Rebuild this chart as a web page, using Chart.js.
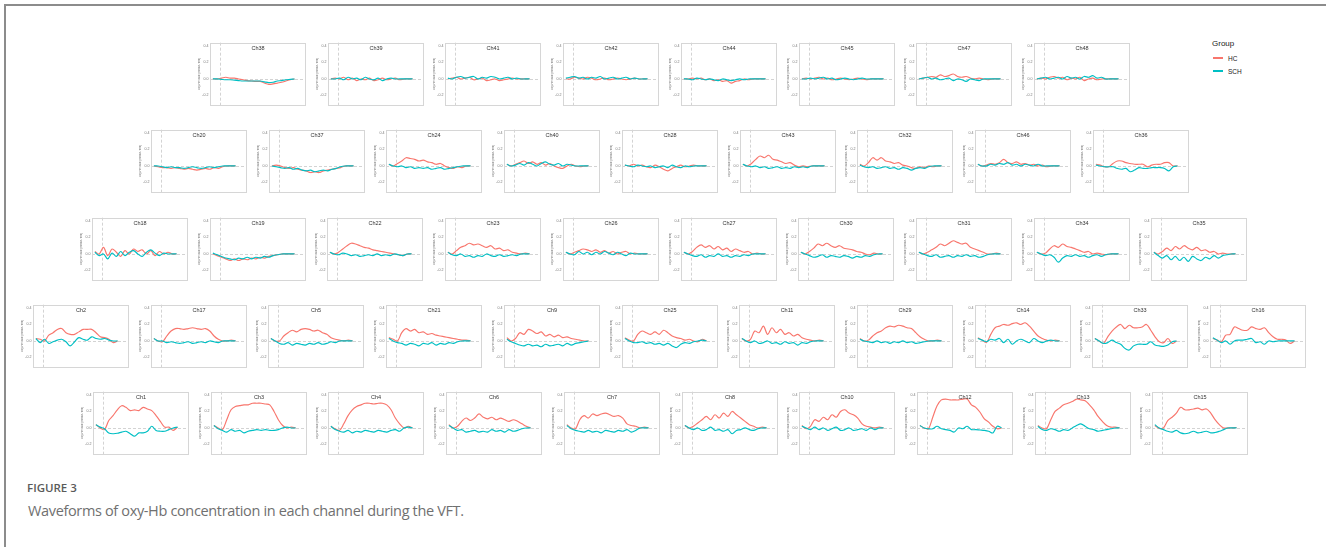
<!DOCTYPE html>
<html>
<head>
<meta charset="utf-8">
<script src="https://cdn.jsdelivr.net/npm/chart.js@4.4.1/dist/chart.umd.min.js"></script>
<style>
  html, body { margin: 0; padding: 0; background: #fff; }
  body { width: 1326px; height: 547px; position: relative; overflow: hidden; font-family: "Liberation Sans", Arial, sans-serif; }
  .frame { position: absolute; left: 4px; top: 4px; right: -4px; bottom: -4px; border-left: 2px solid #8c8c8c; border-top: 2px solid #8c8c8c; }
  canvas.panel { position: absolute; }
  .legend { position: absolute; left: 1212px; top: 39px; color: #222; }
  .legend .ttl { font-size: 8px; line-height: 10px; }
  .legend .item { position: absolute; left: 1px; font-size: 6.5px; line-height: 8px; white-space: nowrap; }
  .legend .sw { display: inline-block; width: 10px; height: 2px; vertical-align: middle; margin-right: 5px; position: relative; top: -1px; }
  .cap1 { position: absolute; left: 27px; top: 480px; font-family: "Open Sans", sans-serif; font-weight: 600; font-size: 11.5px; color: #5a5a5a; }
  .cap2 { position: absolute; left: 28px; top: 501px; font-family: "Open Sans", sans-serif; font-size: 14.5px; color: #707070; letter-spacing: -0.35px; }
</style>
</head>
<body>
<div class="frame"></div>
<div class="legend">
  <div class="ttl">Group</div>
  <div class="item" style="top:16px"><span class="sw" style="background:#F8766D"></span>HC</div>
  <div class="item" style="top:29px"><span class="sw" style="background:#00BFC4"></span>SCH</div>
</div>
<div class="cap1">FIGURE 3</div>
<div class="cap2">Waveforms of oxy-Hb concentration in each channel during the VFT.</div>
<script>
// ── time axis (s), task onset at 0 ──
const timeSec = [-10, -4, 2, 8, 14, 20, 26, 32, 38, 44, 50, 56, 62, 68, 74, 80, 86, 92, 98, 104];
const yTicks = [-0.2, 0, 0.2, 0.4];

// ── row 1 ──
const row1Channels = ['Ch38', 'Ch39', 'Ch41', 'Ch42', 'Ch44', 'Ch45', 'Ch47', 'Ch48'];
const row1HC = [
  [0, 0, 0.01, 0.02, 0.01, 0.01, 0, -0.01, -0.02, -0.025, -0.03, -0.03, -0.05, -0.065, -0.06, -0.05, -0.04, -0.025, -0.01, 0],
  [0, 0.01, 0, 0.02, -0.01, 0.01, -0.02, 0, -0.01, 0.01, -0.02, -0.01, 0.01, -0.01, 0, 0.01, -0.01, 0, 0, 0],
  [0, 0.01, 0.02, 0, 0.01, 0.02, -0.01, 0, 0.01, -0.02, -0.01, 0, -0.02, -0.01, 0, 0.01, 0, 0, 0, 0],
  [0, 0, 0.02, 0.01, 0, 0.02, 0.01, -0.01, 0, 0.01, -0.01, 0, 0.01, 0, -0.01, 0, 0.01, 0, 0, 0],
  [0, 0, 0.01, 0, 0.01, -0.01, 0, -0.02, -0.01, -0.03, -0.02, -0.05, -0.03, -0.02, 0, -0.01, 0, 0, 0, 0],
  [0, 0.01, 0, 0.01, 0.02, 0, 0.01, -0.01, 0, 0.01, 0, -0.01, 0, 0.01, 0, -0.01, 0, 0, 0, 0],
  [0, 0.01, 0.02, 0.03, 0.02, 0.05, 0.03, 0.04, 0.06, 0.03, 0.02, 0.03, 0.01, 0, 0.01, 0, -0.01, 0, 0, 0],
  [0, 0.01, 0, 0.02, 0.03, 0.01, 0.02, -0.01, 0.01, 0, 0.02, -0.02, 0, 0.01, -0.01, 0, 0, 0, 0, 0]
];
const row1SCH = [
  [0, 0, -0.005, -0.01, -0.01, -0.015, -0.02, -0.025, -0.025, -0.025, -0.025, -0.025, -0.035, -0.045, -0.04, -0.025, -0.02, -0.01, -0.005, 0],
  [0, 0, 0.01, -0.01, 0.02, 0, 0.01, -0.01, 0.02, 0, -0.01, 0.01, -0.02, 0, 0.01, 0, 0, 0, 0, 0],
  [0.01, 0, 0.02, 0.03, 0.01, 0.02, 0.03, 0, 0.02, 0.01, 0.03, 0.02, 0, 0.01, 0.02, 0, 0.01, 0, 0, 0],
  [0.01, 0.02, 0.03, 0.01, 0.02, 0, 0.02, 0.01, 0.03, 0, 0.01, 0.02, 0, 0.01, 0.02, 0, 0.01, 0, 0, 0],
  [0, 0, -0.01, 0.01, 0, -0.01, 0, -0.01, -0.02, 0, -0.01, -0.02, -0.01, 0, -0.01, 0, 0, 0, 0, 0],
  [0, 0, 0.01, 0, 0.01, 0.02, 0, 0.01, -0.01, 0, 0.01, 0, -0.01, 0, 0.01, 0, 0, 0, 0, 0],
  [0, 0.01, 0.02, 0, 0.01, -0.01, 0, 0.01, -0.02, 0, -0.01, -0.03, 0, -0.01, -0.02, 0, 0, 0, 0, 0],
  [0, 0.01, 0.02, 0, 0.01, 0.02, 0, 0.03, 0.01, 0.02, 0, 0.03, 0.02, 0.04, 0.01, 0.02, 0, 0, 0, 0]
];

// ── row 2 ──
const row2Channels = ['Ch20', 'Ch37', 'Ch24', 'Ch40', 'Ch28', 'Ch43', 'Ch32', 'Ch46', 'Ch36'];
const row2HC = [
  [0, -0.01, -0.02, -0.02, -0.03, -0.02, -0.03, -0.04, -0.03, -0.04, -0.05, -0.04, -0.03, -0.04, -0.02, -0.03, -0.01, 0, 0, 0],
  [0, 0.01, 0, -0.02, -0.03, -0.02, -0.04, -0.05, -0.06, -0.08, -0.07, -0.08, -0.06, -0.05, -0.04, -0.03, -0.02, 0, 0, 0],
  [0.02, 0, 0.03, 0.06, 0.1, 0.09, 0.08, 0.06, 0.07, 0.05, 0.04, 0.02, 0.03, 0, -0.02, -0.03, -0.01, -0.02, 0, 0],
  [0.02, 0, 0.02, 0.04, 0.06, 0.03, 0.05, 0.02, 0.04, 0.01, 0.03, 0, -0.02, -0.03, 0, 0.02, 0, -0.01, 0, 0],
  [0.01, 0, 0.02, 0, 0.01, -0.01, -0.02, 0.01, -0.01, -0.04, -0.06, -0.03, -0.01, 0.01, -0.01, 0, 0.01, 0, 0, 0],
  [0.02, 0, 0.03, 0.08, 0.12, 0.1, 0.13, 0.08, 0.07, 0.05, 0.03, 0.04, 0.01, -0.01, 0, -0.01, 0, 0, 0, 0],
  [0.02, 0, 0.04, 0.1, 0.07, 0.1, 0.06, 0.05, 0.03, 0.04, 0.01, 0, -0.02, -0.03, -0.01, -0.02, 0, -0.01, 0, 0],
  [0.02, 0, 0.01, 0.03, 0.02, 0.04, 0.08, 0.04, 0.03, 0.05, 0.02, 0.03, 0.01, 0.02, 0, 0.01, -0.01, 0, 0, 0],
  [0.02, 0.01, -0.01, -0.01, 0.03, 0.06, 0.06, 0.04, 0.03, 0.02, 0.02, 0.02, -0.01, 0.01, 0.02, 0.02, 0.04, 0.04, 0, 0]
];
const row2SCH = [
  [0, 0, -0.01, -0.02, -0.01, -0.02, -0.02, -0.03, -0.02, -0.01, -0.02, -0.03, -0.02, -0.01, -0.02, -0.01, 0, 0, 0, 0],
  [0, -0.01, -0.02, -0.03, -0.02, -0.04, -0.03, -0.05, -0.06, -0.05, -0.07, -0.06, -0.05, -0.06, -0.04, -0.03, -0.01, 0, 0, 0],
  [0.02, 0, -0.01, 0, -0.02, -0.01, -0.03, -0.02, -0.03, -0.02, -0.04, -0.03, -0.02, -0.04, -0.03, -0.02, -0.01, 0, 0, 0],
  [0.02, 0, 0.01, 0.03, 0.01, 0.04, 0.02, 0, 0.03, 0.05, 0.02, 0.01, 0.03, 0, 0.02, 0.01, 0, 0, 0, 0],
  [0.01, 0, -0.01, 0.01, 0, -0.01, 0, -0.02, -0.01, 0, -0.02, 0.01, -0.01, -0.02, 0, -0.01, 0, 0, 0, 0],
  [0.02, 0, -0.01, 0, -0.02, -0.01, -0.03, -0.02, -0.01, -0.03, -0.02, -0.03, -0.01, -0.02, -0.01, -0.02, 0, 0, 0, 0],
  [0.01, -0.01, -0.02, -0.01, -0.03, -0.02, -0.01, -0.03, -0.02, -0.04, -0.02, -0.03, -0.05, -0.03, -0.02, -0.03, -0.01, 0, 0, 0],
  [0.02, 0, 0, 0.02, 0.01, 0.03, 0.02, 0.04, 0.01, 0.02, 0, 0.02, 0.01, 0, 0.02, 0, 0, 0, 0, 0],
  [0.01, 0, -0.01, -0.01, -0.01, -0.03, -0.04, -0.03, -0.07, -0.05, -0.02, -0.03, -0.03, -0.02, -0.02, -0.02, -0.03, -0.06, -0.01, 0]
];

// ── row 3 ──
const row3Channels = ['Ch18', 'Ch19', 'Ch22', 'Ch23', 'Ch26', 'Ch27', 'Ch30', 'Ch31', 'Ch34', 'Ch35'];
const row3HC = [
  [0.03, 0, 0.08, -0.02, 0.06, 0.02, -0.03, 0.04, 0, 0.06, 0.03, 0.05, 0, 0.04, -0.02, 0.03, 0, 0.02, 0, 0],
  [0, -0.02, -0.04, -0.06, -0.08, -0.06, -0.08, -0.06, -0.07, -0.05, -0.06, -0.04, -0.05, -0.03, -0.02, -0.01, 0, 0, 0, 0],
  [0.02, 0, 0.02, 0.06, 0.1, 0.13, 0.12, 0.1, 0.08, 0.07, 0.05, 0.04, 0.03, 0.02, 0.01, 0, -0.01, -0.02, 0, 0],
  [0.02, 0, 0.04, 0.08, 0.1, 0.13, 0.11, 0.12, 0.1, 0.08, 0.1, 0.06, 0.07, 0.04, 0.05, 0.02, 0.01, 0, 0.01, 0],
  [0.02, 0, 0.02, 0.04, 0.06, 0.05, 0.03, 0.05, 0.02, 0.04, 0.01, 0.03, 0, 0.02, 0.03, 0, 0.01, 0, 0, 0],
  [0.02, 0, 0.03, 0.08, 0.11, 0.08, 0.1, 0.06, 0.09, 0.05, 0.07, 0.03, 0.06, 0.04, 0.02, 0.03, 0, 0.01, 0, 0],
  [0.02, 0, 0.03, 0.07, 0.12, 0.1, 0.13, 0.1, 0.08, 0.1, 0.07, 0.06, 0.05, 0.03, 0.02, 0, -0.01, 0.01, 0, 0],
  [0.02, 0, 0.02, 0.05, 0.08, 0.12, 0.1, 0.13, 0.16, 0.14, 0.12, 0.13, 0.08, 0.06, 0.04, 0.02, 0, 0, 0.01, 0],
  [0.02, 0, 0.01, 0.06, 0.1, 0.08, 0.12, 0.09, 0.08, 0.06, 0.04, 0.02, 0.03, 0, 0.01, 0, -0.01, 0, 0, 0],
  [0.02, 0, 0.03, 0.07, 0.04, 0.09, 0.06, 0.1, 0.07, 0.05, 0.08, 0.04, 0.05, 0.02, 0.03, 0, 0.01, 0, 0, 0]
];
const row3SCH = [
  [0.02, -0.02, 0, -0.06, 0.01, -0.03, 0.03, -0.02, 0.02, 0.04, 0, -0.03, 0.02, 0.05, 0.01, -0.02, 0.01, 0, 0, 0],
  [0.01, -0.01, -0.03, -0.05, -0.06, -0.07, -0.05, -0.06, -0.04, -0.06, -0.04, -0.05, -0.03, -0.04, -0.02, -0.01, 0, 0, 0, 0],
  [0.02, 0, -0.01, 0.01, 0, -0.02, -0.01, -0.03, -0.02, -0.01, -0.02, 0, -0.02, -0.01, -0.02, 0, -0.01, -0.02, 0, 0],
  [0.02, -0.01, -0.02, 0, -0.03, -0.02, -0.04, -0.02, -0.03, 0, -0.02, -0.03, -0.01, -0.03, -0.02, -0.01, -0.02, 0, 0, 0],
  [0.02, 0, -0.01, 0.03, 0, 0.02, -0.01, 0.02, 0, 0.03, 0.01, -0.01, 0.02, 0, -0.02, 0.01, 0, 0, 0, 0],
  [0.02, 0, -0.02, -0.03, -0.01, -0.04, -0.02, -0.03, 0, -0.03, -0.02, -0.04, -0.02, -0.03, -0.01, -0.02, 0, 0, 0, 0],
  [0.02, 0, -0.02, -0.04, -0.03, -0.01, -0.04, -0.02, -0.03, -0.04, -0.02, -0.03, -0.05, -0.03, -0.04, -0.02, -0.03, -0.01, 0, 0],
  [0.02, 0, -0.02, -0.03, -0.01, -0.04, -0.03, -0.02, -0.04, -0.02, -0.03, -0.01, -0.03, -0.02, -0.04, -0.03, -0.01, 0, 0, 0],
  [0.02, 0, -0.02, -0.01, -0.04, -0.1, -0.05, -0.02, -0.03, -0.01, -0.03, -0.02, -0.04, -0.02, -0.01, -0.03, -0.01, 0, 0, 0],
  [0.02, -0.02, -0.05, -0.02, -0.07, -0.03, -0.08, -0.04, -0.09, -0.03, -0.06, -0.08, -0.04, -0.06, -0.02, -0.05, -0.02, -0.01, 0, 0]
];

// ── row 4 ──
const row4Channels = ['Ch2', 'Ch17', 'Ch5', 'Ch21', 'Ch9', 'Ch25', 'Ch11', 'Ch29', 'Ch14', 'Ch33', 'Ch16'];
const row4HC = [
  [0.03, 0.02, 0, 0.07, 0.1, 0.14, 0.15, 0.1, 0.08, 0.08, 0.11, 0.14, 0.14, 0.14, 0.1, 0.05, 0.04, 0.02, -0.02, 0],
  [0.03, 0, -0.01, 0.06, 0.12, 0.15, 0.15, 0.14, 0.15, 0.16, 0.15, 0.14, 0.15, 0.12, 0.06, 0.02, 0, 0, 0.01, 0],
  [0.03, 0, 0, 0.06, 0.1, 0.13, 0.11, 0.14, 0.15, 0.14, 0.12, 0.13, 0.1, 0.08, 0.04, 0.02, 0.01, 0, 0.01, 0],
  [0.04, 0.02, 0, 0.1, 0.15, 0.12, 0.14, 0.1, 0.11, 0.08, 0.09, 0.07, 0.06, 0.05, 0.04, 0.03, 0.02, 0.01, 0.01, 0],
  [0.04, 0, 0.03, 0.1, 0.08, 0.14, 0.12, 0.09, 0.11, 0.06, 0.08, 0.05, 0.07, 0.04, 0.05, 0.03, 0.02, 0.01, 0, 0],
  [0.04, 0.01, 0, 0.08, 0.12, 0.1, 0.08, 0.11, 0.08, 0.13, 0.1, 0.06, 0.04, 0.03, 0.01, 0.02, 0, -0.01, 0.02, 0],
  [0.03, 0, 0.02, 0.12, 0.1, 0.18, 0.08, 0.16, 0.1, 0.14, 0.08, 0.1, 0.06, 0.08, 0.04, 0.02, 0.01, 0, 0.01, 0],
  [0.03, 0, 0.01, 0.06, 0.1, 0.12, 0.16, 0.18, 0.17, 0.19, 0.18, 0.16, 0.15, 0.1, 0.05, 0.02, 0, 0, 0.01, 0],
  [0.04, 0.01, -0.02, 0.08, 0.16, 0.18, 0.2, 0.19, 0.21, 0.22, 0.2, 0.22, 0.18, 0.12, 0.06, 0.03, 0.01, 0, 0.01, 0],
  [0.03, 0, -0.03, 0.05, 0.12, 0.17, 0.2, 0.15, 0.19, 0.16, 0.16, 0.17, 0.2, 0.13, 0.05, -0.01, -0.02, 0.03, -0.03, 0],
  [0.03, 0.01, -0.01, 0.07, 0.08, 0.17, 0.15, 0.13, 0.13, 0.17, 0.15, 0.14, 0.16, 0.1, 0.05, 0.02, 0.02, 0.01, -0.03, 0]
];
const row4SCH = [
  [0.03, -0.02, 0.02, -0.03, -0.01, 0.01, 0.02, -0.01, -0.06, -0.01, 0.04, 0.02, 0.01, 0.05, 0.03, 0.02, 0.03, 0.01, 0, 0],
  [0.03, 0, 0, -0.02, -0.01, -0.02, -0.03, -0.02, -0.01, -0.03, -0.02, -0.01, -0.02, 0, -0.01, -0.02, 0, 0, 0, 0],
  [0.03, 0, -0.03, -0.04, -0.02, -0.05, -0.03, -0.04, -0.05, -0.03, -0.04, -0.02, -0.04, -0.03, -0.01, -0.02, 0, 0, 0, 0],
  [0.03, 0, -0.02, -0.03, -0.05, -0.03, -0.04, -0.06, -0.03, -0.04, -0.02, -0.05, -0.03, -0.04, -0.02, -0.03, -0.01, 0, 0, 0],
  [0.02, -0.01, -0.03, -0.05, -0.06, -0.04, -0.06, -0.05, -0.07, -0.04, -0.06, -0.05, -0.04, -0.06, -0.03, -0.05, -0.03, -0.02, -0.01, 0],
  [0.03, 0, -0.02, -0.02, -0.01, -0.03, -0.02, -0.04, -0.03, -0.05, -0.03, -0.06, -0.08, -0.04, -0.02, -0.03, -0.01, 0, 0.01, 0],
  [0.03, 0, -0.02, 0, -0.03, -0.02, 0, -0.03, -0.02, -0.04, -0.01, -0.03, -0.02, -0.05, -0.02, -0.03, -0.01, 0, 0, 0],
  [0.02, 0, -0.01, -0.02, 0, -0.02, -0.01, -0.03, -0.01, -0.02, 0, -0.02, -0.01, -0.03, -0.02, -0.01, 0, 0, 0, 0],
  [0.03, 0.01, -0.01, 0.02, 0.01, 0.03, -0.02, 0.02, -0.04, 0, 0.02, 0, -0.02, 0.03, 0, -0.02, 0, 0.01, 0, 0],
  [0.03, 0, -0.03, -0.02, 0.01, -0.02, -0.04, -0.09, -0.11, -0.06, -0.04, -0.04, -0.04, -0.01, -0.05, -0.06, -0.065, -0.05, -0.01, 0],
  [0.04, 0.01, -0.02, 0, -0.04, 0, 0.01, 0.01, 0.02, 0.03, -0.02, -0.01, -0.04, 0, -0.01, 0, 0, 0, 0, 0]
];

// ── row 5 ──
const row5Channels = ['Ch1', 'Ch3', 'Ch4', 'Ch6', 'Ch7', 'Ch8', 'Ch10', 'Ch12', 'Ch13', 'Ch15'];
const row5HC = [
  [0.04, 0, -0.02, 0.09, 0.15, 0.22, 0.27, 0.25, 0.21, 0.22, 0.21, 0.25, 0.23, 0.21, 0.15, 0.08, 0.01, 0.01, -0.03, 0.01],
  [0.03, 0, -0.02, 0.1, 0.22, 0.26, 0.27, 0.28, 0.28, 0.3, 0.3, 0.3, 0.29, 0.28, 0.2, 0.1, 0.03, 0, 0.01, 0],
  [0.02, -0.01, -0.03, 0.05, 0.15, 0.22, 0.26, 0.28, 0.3, 0.3, 0.29, 0.3, 0.3, 0.28, 0.22, 0.12, 0.05, 0, 0.02, 0],
  [0.04, 0, 0.02, 0.08, 0.12, 0.09, 0.12, 0.17, 0.13, 0.11, 0.13, 0.1, 0.12, 0.1, 0.08, 0.1, 0.08, 0.05, 0.02, 0],
  [0.04, 0, -0.01, 0.1, 0.15, 0.12, 0.17, 0.15, 0.17, 0.18, 0.16, 0.14, 0.15, 0.12, 0.05, 0.03, 0.02, 0, 0.01, 0],
  [0.03, 0, 0.02, 0.06, 0.1, 0.14, 0.1, 0.16, 0.12, 0.18, 0.14, 0.2, 0.16, 0.12, 0.08, 0.04, 0.02, 0, 0.01, 0],
  [0.03, -0.01, 0.02, 0.1, 0.08, 0.13, 0.1, 0.16, 0.13, 0.2, 0.22, 0.18, 0.16, 0.12, 0.05, 0.02, 0.01, 0, 0.01, 0],
  [0.03, 0, -0.01, 0.13, 0.27, 0.34, 0.35, 0.34, 0.34, 0.34, 0.35, 0.35, 0.28, 0.25, 0.19, 0.11, 0.07, 0.02, -0.01, 0],
  [0.03, 0, -0.01, 0.1, 0.2, 0.24, 0.28, 0.3, 0.32, 0.35, 0.34, 0.33, 0.28, 0.22, 0.14, 0.08, 0.03, 0.01, 0.01, 0],
  [0.03, -0.005, 0, 0.09, 0.13, 0.18, 0.25, 0.22, 0.22, 0.23, 0.24, 0.22, 0.23, 0.18, 0.1, 0.04, 0, 0, 0, 0.005]
];
const row5SCH = [
  [0.04, 0.01, -0.01, -0.06, -0.07, -0.065, -0.05, -0.04, -0.07, -0.1, -0.06, -0.06, -0.04, 0.02, -0.03, -0.04, -0.04, -0.02, 0, 0.01],
  [0.03, -0.01, -0.03, -0.05, -0.02, -0.04, -0.03, -0.06, -0.04, -0.03, -0.02, -0.03, -0.02, -0.03, -0.03, -0.02, 0, 0.01, 0, 0],
  [0.02, -0.02, -0.04, -0.05, -0.03, -0.06, -0.04, -0.05, -0.03, -0.04, -0.05, -0.03, -0.04, -0.05, -0.03, -0.02, -0.04, 0, 0.01, 0],
  [0.03, 0, -0.03, -0.02, -0.05, -0.04, -0.03, -0.05, -0.04, -0.05, -0.02, -0.04, -0.03, -0.05, -0.02, -0.04, -0.03, -0.01, 0, 0],
  [0.03, -0.01, -0.03, -0.04, -0.05, -0.03, -0.05, -0.04, -0.06, -0.03, -0.04, -0.05, -0.03, -0.04, -0.02, -0.05, -0.03, 0, 0, 0],
  [0.03, 0, -0.02, 0, -0.03, -0.02, 0.01, -0.03, -0.02, -0.04, -0.02, -0.07, -0.03, -0.02, 0, -0.02, -0.03, -0.01, 0, 0],
  [0.02, 0, -0.02, 0.01, -0.02, 0, -0.03, -0.01, 0.01, -0.03, -0.02, 0, -0.03, -0.02, -0.01, -0.03, 0, -0.02, 0, 0],
  [0.03, 0, -0.01, -0.01, 0.02, -0.01, -0.02, -0.03, -0.05, 0, -0.01, 0.02, -0.02, -0.02, -0.025, -0.03, -0.04, -0.06, 0.02, 0],
  [0.02, -0.02, -0.03, -0.01, -0.02, -0.04, -0.02, -0.03, 0, 0.03, 0.05, 0.02, -0.01, -0.02, -0.04, -0.03, -0.02, -0.01, 0, 0],
  [0.04, 0, -0.02, -0.04, -0.05, -0.03, -0.06, -0.07, -0.06, -0.04, -0.06, -0.05, -0.04, -0.06, -0.055, -0.04, -0.02, 0, 0, 0]
];

// ── layout ──
const rows = [
  { ch: row1Channels, hc: row1HC, sch: row1SCH, left: 210, top: 39 },
  { ch: row2Channels, hc: row2HC, sch: row2SCH, left: 151, top: 126.3 },
  { ch: row3Channels, hc: row3HC, sch: row3SCH, left: 92, top: 213.6 },
  { ch: row4Channels, hc: row4HC, sch: row4SCH, left: 33, top: 300.9 },
  { ch: row5Channels, hc: row5HC, sch: row5SCH, left: 93, top: 388.2 }
];
const colStep = 117.7, plotW = 96, plotH = 70, axisW = 12;
const HC_COL = '#F8766D', SCH_COL = '#00BFC4';

// border, dashed reference lines, title inside panel
const panelDecor = {
  id: 'panelDecor',
  beforeDatasetsDraw(chart, args, opts) {
    const { ctx, chartArea: a, scales: { x, y } } = chart;
    ctx.save();
    ctx.strokeStyle = '#c8c8c8';
    ctx.lineWidth = 0.8;
    ctx.setLineDash([3, 2]);
    const y0 = Math.round(y.getPixelForValue(0)) + 0.5;
    ctx.beginPath(); ctx.moveTo(a.left, y0); ctx.lineTo(a.right, y0); ctx.stroke();
    const x0 = Math.round(x.getPixelForValue(0)) + 0.5;
    ctx.beginPath(); ctx.moveTo(x0, a.top); ctx.lineTo(x0, a.bottom); ctx.stroke();
    ctx.restore();
  },
  afterDatasetsDraw(chart, args, opts) {
    const { ctx, chartArea: a } = chart;
    ctx.save();
    ctx.strokeStyle = '#d6d6d6';
    ctx.lineWidth = 1;
    ctx.strokeRect(Math.round(a.left) + 0.5, Math.round(a.top) + 0.5, Math.round(a.right - a.left) - 1, Math.round(a.bottom - a.top) - 1);
    ctx.fillStyle = '#333';
    ctx.font = '5.5px "Liberation Sans", Arial, sans-serif';
    ctx.textAlign = 'center';
    ctx.textBaseline = 'middle';
    ctx.fillText(opts.title, (a.left + a.right) / 2, a.top + 6);
    ctx.restore();
  }
};

function makePanel(label, hc, sch, left, top) {
  const c = document.createElement('canvas');
  c.className = 'panel';
  const w = axisW + plotW, h = plotH;
  c.width = w; c.height = h;
  c.style.left = Math.round(left - axisW) + 'px';
  c.style.top = Math.round(top) + 'px';
  c.style.width = w + 'px'; c.style.height = h + 'px';
  document.body.appendChild(c);
  const pts = arr => arr.map((v, i) => ({ x: timeSec[i], y: v }));
  new Chart(c, {
    type: 'line',
    data: {
      datasets: [
        { label: 'HC', data: pts(hc), borderColor: HC_COL, borderWidth: 1.15, pointRadius: 0, tension: 0.35, order: 1 },
        { label: 'SCH', data: pts(sch), borderColor: SCH_COL, borderWidth: 1.15, pointRadius: 0, tension: 0.35, order: 0 }
      ]
    },
    options: {
      responsive: false, animation: false, events: [],
      layout: { padding: 0 },
      plugins: { legend: { display: false }, tooltip: { enabled: false }, panelDecor: { title: label } },
      scales: {
        x: { type: 'linear', min: -14, max: 120, display: false },
        y: {
          min: -0.32, max: 0.44,
          afterFit: s => { s.width = axisW; },
          afterBuildTicks: s => { s.ticks = yTicks.map(v => ({ value: v })); },
          grid: { display: false, drawTicks: false }, border: { display: false },
          ticks: { font: { size: 3.6, family: 'Liberation Sans' }, color: '#777', padding: 1.5, callback: v => v.toFixed(1) },
          title: { display: true, text: 'Oxy-Hb value (mmol/L·mm)', font: { size: 2.6, family: 'Liberation Sans' }, color: '#666', padding: 0 }
        }
      }
    },
    plugins: [panelDecor]
  });
}

rows.forEach(r => {
  r.ch.forEach((label, i) => makePanel(label, r.hc[i], r.sch[i], r.left + i * colStep, r.top));
});
</script>
</body>
</html>
